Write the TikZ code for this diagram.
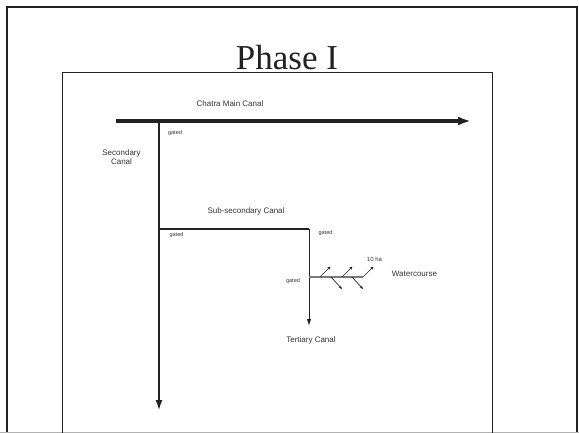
\documentclass[tikz,border=0pt]{standalone}
\usepackage{fontspec}
\setmainfont{Liberation Serif}
\setsansfont{Liberation Sans}
\usepackage{tikz}
\usetikzlibrary{arrows.meta}

\definecolor{ink}{HTML}{222222}
\definecolor{txt}{HTML}{333333}
\definecolor{wcgray}{HTML}{7A7A7A}

\tikzset{
	lbl/.style={font=\sffamily\fontsize{8}{9}\selectfont, text=txt, inner sep=0pt, align=center},
	gatelbl/.style={font=\sffamily\fontsize{5.5}{6}\selectfont, text=txt, inner sep=0pt},
	twig/.style={ink, line width=.7pt, -{Stealth[length=3.5pt,width=3pt]}}
}

\begin{document}
\begin{tikzpicture}[x=1pt,y=-1pt]
	
	\useasboundingbox (0,0) rectangle (579,433);
	
	% frames
	\draw[ink, line width=2pt] (7,440) -- (7,7) -- (577,7) -- (577,440);
	\draw[gray!60, line width=1pt] (0,432.5) -- (579,432.5);
	\draw[ink, line width=.9pt] (62.5,440) -- (62.5,72) -- (492,72) -- (492,440);
	\node[font=\fontsize{35}{36}\selectfont, text=ink, anchor=base, inner sep=0pt] (title) at (287,69.5) {Phase I};
	
	\coordinate (m0) at (116,121);
	\coordinate (m1) at (471,121);
	\coordinate (s0) at (159,121);
	\coordinate (s1) at (159,411);
	\coordinate (b0) at (159,229);
	\coordinate (b1) at (309,229);
	\coordinate (t1) at (309,326);
	\coordinate (w0) at (309,277);
	\coordinate (w1) at (363,277);
	
	% canals
	\draw[ink, line width=3.8pt, -{Latex[length=13pt,width=9pt]}] (m0) -- (m1);
	\draw[ink, line width=2.2pt, -{Latex[length=11pt,width=7pt]}] (s0) -- (s1);
	\draw[ink, line width=1.3pt] (b0) -- (b1);
	\draw[ink, line width=1pt, -{Latex[length=7pt,width=4.5pt]}] (b1) -- (t1);
	\draw[wcgray, line width=1.8pt] (w0) -- (w1);
	
	% watercourse outlets
	\foreach \x in {320,342,363}
		\draw[twig] (\x,277) -- ++(10.5,-10.5);
	\foreach \x in {331,352}
		\draw[twig] (\x,277) -- ++(11,12);
	
	% labels
	\node[lbl] (mainlbl) at (230,104) {Chatra Main Canal};
	\node[lbl] (seclbl) at (121.5,157.5) {Secondary\\Canal};
	\node[lbl] (sublbl) at (246,211) {Sub-secondary Canal};
	\node[lbl] (terlbl) at (311,340) {Tertiary Canal};
	\node[lbl] (wclbl) at (414.5,273.5) {Watercourse};
	\node[gatelbl, font=\sffamily\fontsize{6}{7}\selectfont] (halbl) at (374.5,259.5) {10 ha};
	\node[gatelbl] (g1) at (175,133) {gated};
	\node[gatelbl] (g2) at (176.5,235) {gated};
	\node[gatelbl] (g3) at (325.5,233) {gated};
	\node[gatelbl] (g4) at (293,281) {gated};
	
\end{tikzpicture}
\end{document}
